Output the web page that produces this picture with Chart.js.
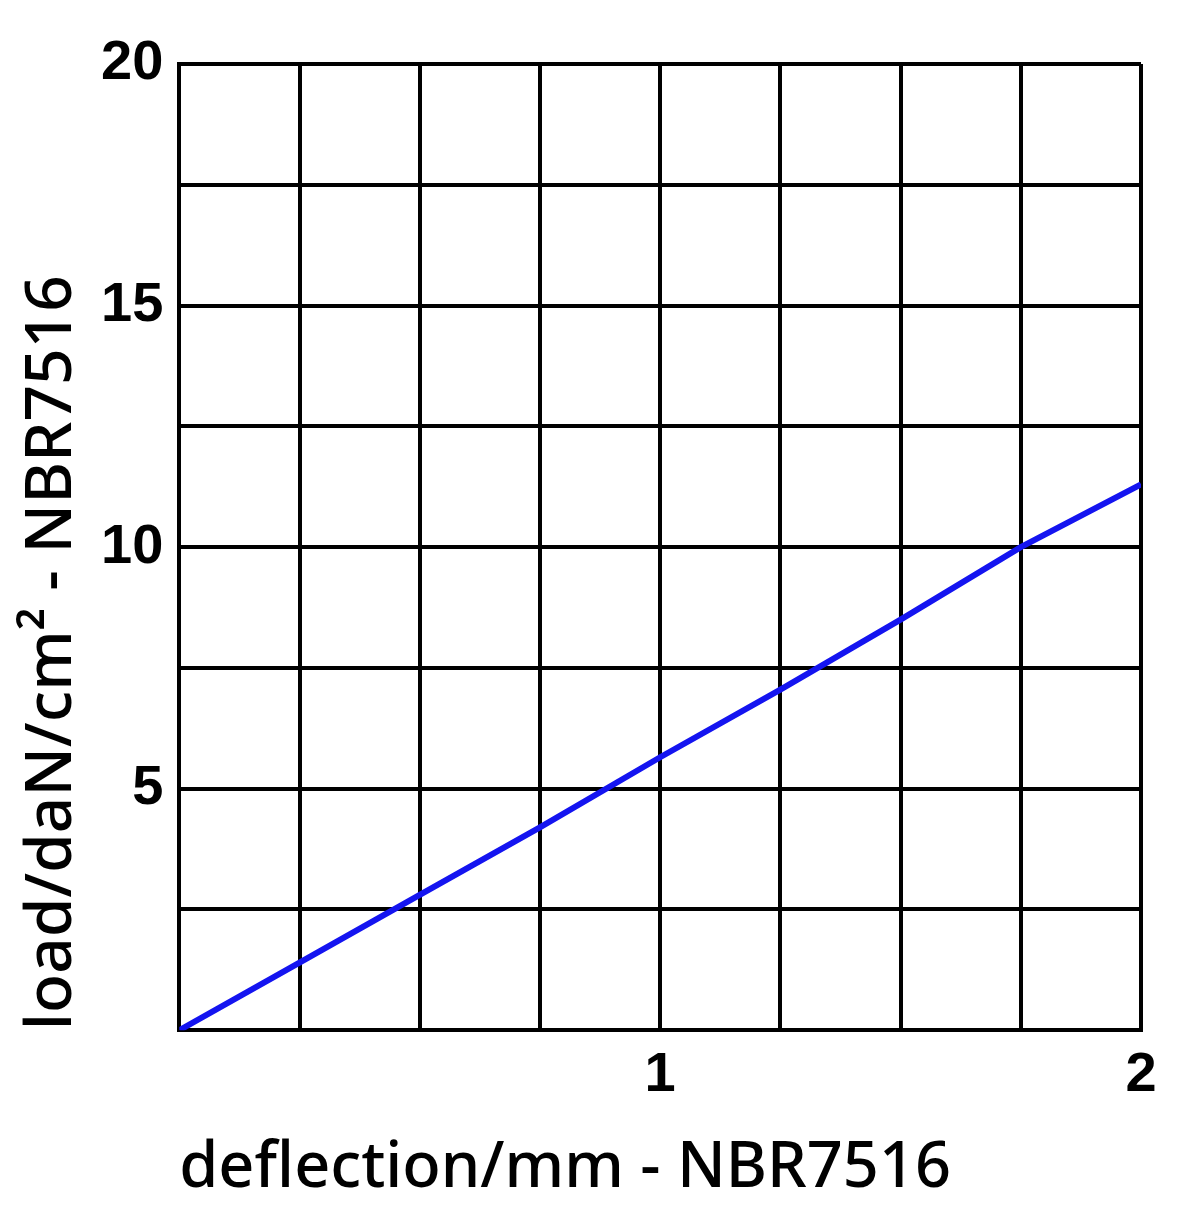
<!DOCTYPE html>
<html>
<head>
<meta charset="utf-8">
<script src="https://cdn.jsdelivr.net/npm/chart.js@4/dist/chart.umd.min.js"></script>
<style>
  html, body { margin: 0; padding: 0; background: #fff; }
  #wrap { width: 1200px; height: 1215px; }
</style>
</head>
<body>
<div id="wrap"><canvas id="myChart" width="1200" height="1215"></canvas></div>
<script>
// deflection in mm, load in daN/cm2
var deflection = [0, 0.25, 0.5, 0.75, 1, 1.25, 1.5, 1.75, 2];
var load = [0, 1.4, 2.8, 4.2, 5.65, 7.05, 8.5, 10.0, 11.3];
var xLabels = [1, 2];
var yLabels = [5, 10, 15, 20];

var points = deflection.map(function (d, i) { return { x: d, y: load[i] }; });

var tickFont = { family: 'Liberation Sans', size: 56, weight: 'bold' };
var xTitleFont = { family: 'Noto Sans', size: 63, weight: 500 };
var yTitleFont = { family: 'Noto Sans', size: 64, weight: 500, lineHeight: 1.0 };

var ctx = document.getElementById('myChart').getContext('2d');
var chart = new Chart(ctx, {
    type: 'scatter',
    data: {
        datasets: [{
            data: points,
            showLine: true,
            borderColor: '#1414f0',
            borderWidth: 6,
            pointRadius: 0,
            fill: false
        }]
    },
    options: {
        responsive: false,
        animation: false,
        layout: { padding: { left: 21, right: 59, top: 64, bottom: 8 } },
        plugins: { legend: { display: false }, tooltip: { enabled: false } },
        scales: {
            x: {
                type: 'linear',
                min: 0,
                max: 2,
                grid: { color: '#000', lineWidth: 4, drawTicks: false },
                border: { color: '#000', width: 4 },
                ticks: {
                    stepSize: 0.25,
                    padding: 12,
                    color: '#000',
                    font: tickFont,
                    maxRotation: 0,
                    autoSkip: false,
                    callback: function (v) { return xLabels.indexOf(v) >= 0 ? String(v) : ''; }
                },
                title: {
                    display: true,
                    text: 'deflection/mm - NBR7516',
                    align: 'start',
                    color: '#000',
                    font: xTitleFont,
                    padding: { top: 10, bottom: 0 }
                }
            },
            y: {
                type: 'linear',
                min: 0,
                max: 20,
                grid: { color: '#000', lineWidth: 4, drawTicks: false },
                border: { color: '#000', width: 4 },
                ticks: {
                    stepSize: 2.5,
                    padding: 16,
                    color: '#000',
                    font: tickFont,
                    autoSkip: false,
                    callback: function (v) { return yLabels.indexOf(v) >= 0 ? String(v) : ''; }
                },
                title: {
                    display: true,
                    text: 'load/daN/cm² - NBR7516',
                    align: 'start',
                    color: '#000',
                    font: yTitleFont,
                    padding: { top: 0, bottom: 0 }
                }
            }
        }
    }
});
</script>
</body>
</html>
